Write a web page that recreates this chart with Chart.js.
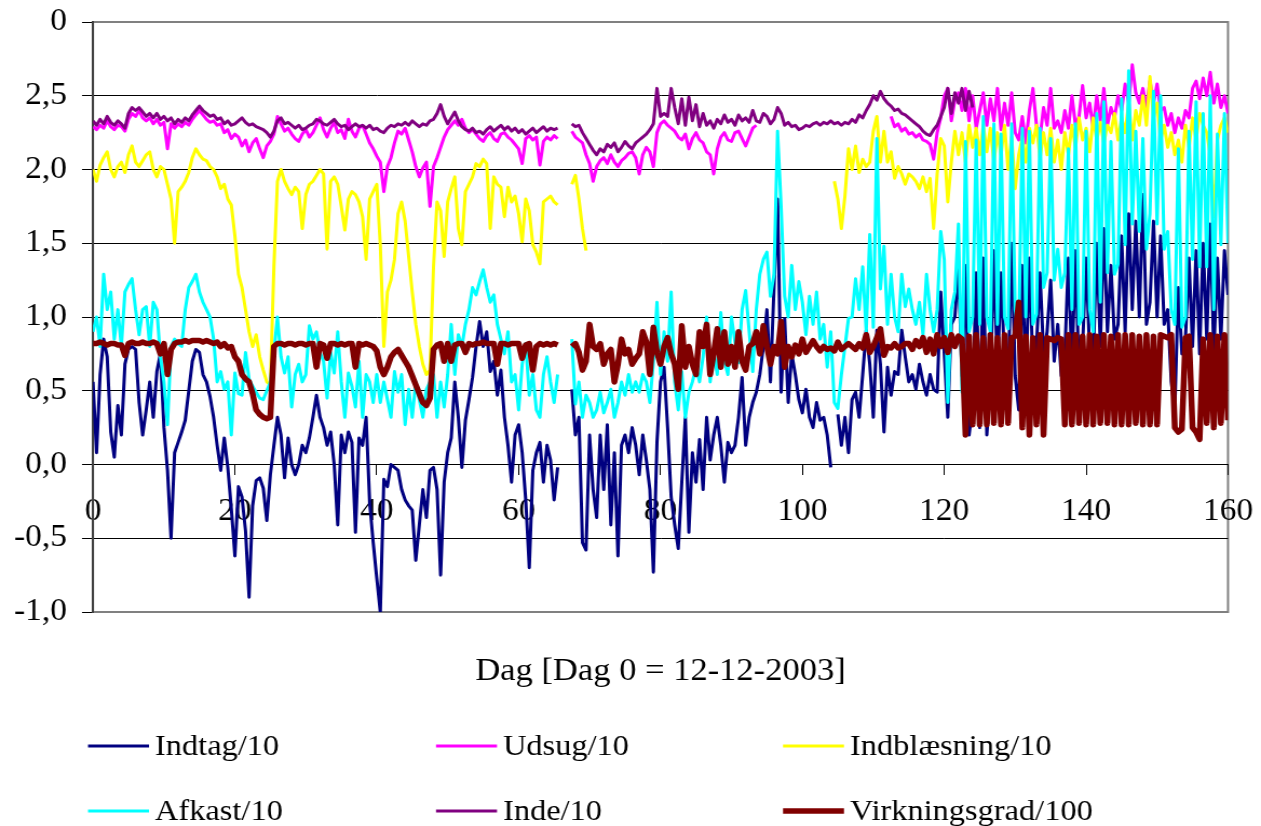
<!DOCTYPE html>
<html>
<head>
<meta charset="utf-8">
<title>Indtag, udsug, indblæsning, afkast, inde og virkningsgrad</title>
<script src="https://cdn.jsdelivr.net/npm/chart.js@4.4.0/dist/chart.umd.min.js"></script>
<style>
  html, body { margin: 0; padding: 0; background: #fff; }
</style>
</head>
<body>
<canvas id="chart" width="1168" height="826" style="width:1261px;height:826px;display:block"></canvas>
<script>

// ========== data (half-day steps, day 0 = 12-12-2003)

const days = [];
for (let i = 0; i <= 320; i++) days.push(i / 2);

const xTicks = [0, 20, 40, 60, 80, 100, 120, 140, 160];
const yTickLabels = ['-1,0', '-0,5', '0,0', '0,5', '1,0', '1,5', '2,0', '2,5', '0'];
const seriesNames = ['Indtag/10', 'Udsug/10', 'Indblæsning/10', 'Afkast/10', 'Inde/10', 'Virkningsgrad/100'];
const axisTitle = 'Dag [Dag 0 = 12-12-2003]';

const indtag = [
  0.56, 0.08, 0.61, 0.85, 0.73, 0.22, 0.05, 0.40, 0.20, 0.68,
  0.78, 0.80, 0.78, 0.42, 0.20, 0.37, 0.56, 0.32, 0.63, 0.75,
  0.25, -0.04, -0.50, 0.08, 0.15, 0.22, 0.30, 0.50, 0.70, 0.78,
  0.76, 0.61, 0.56, 0.46, 0.32, 0.13, -0.04, 0.18, -0.02, -0.30,
  -0.62, -0.15, -0.22, -0.45, -0.90, -0.28, -0.11, -0.09, -0.16, -0.38,
  -0.07, 0.13, 0.32, 0.20, -0.09, 0.18, 0.00, -0.07, 0.00, 0.13,
  0.08, 0.18, 0.32, 0.47, 0.32, 0.25, 0.13, 0.22, 0.00, -0.41,
  0.20, 0.08, 0.22, 0.15, -0.46, 0.18, 0.13, 0.32, -0.26, -0.53,
  -0.77, -1.00, -0.10, -0.15, 0.00, -0.02, -0.04, -0.17, -0.24, -0.28,
  -0.31, -0.65, -0.41, -0.17, -0.36, -0.04, -0.02, -0.17, -0.75, -0.12,
  0.08, 0.18, 0.56, 0.32, -0.02, 0.30, 0.44, 0.59, 0.80, 0.97,
  0.80, 0.90, 0.63, 0.70, 0.47, 0.64, 0.32, 0.13, -0.12, 0.20,
  0.27, 0.08, -0.24, -0.70, -0.04, 0.08, 0.15, -0.12, 0.13, 0.03,
  -0.24, -0.02, null, null, null, 0.51, 0.20, 0.32, -0.53, -0.58,
  0.20, -0.17, -0.36, 0.20, -0.17, 0.27, -0.41, 0.08, -0.62, 0.13,
  0.20, 0.08, 0.25, 0.13, -0.07, 0.20, 0.03, -0.17, -0.73, 0.15,
  0.56, 0.66, 0.25, -0.22, -0.41, -0.57, -0.12, 0.32, -0.46, 0.08,
  -0.12, 0.17, -0.17, 0.32, 0.03, 0.20, 0.32, 0.13, -0.12, 0.15,
  0.08, 0.13, 0.32, 0.59, 0.13, 0.32, 0.42, 0.49, 0.61, 0.80,
  1.05, 0.56, 1.20, 1.80, 0.49, 0.99, 0.42, 0.75, 0.61, 0.44,
  0.35, 0.51, 0.32, 0.25, 0.42, 0.30, 0.32, 0.20, -0.02, null,
  0.34, 0.13, 0.32, 0.08, 0.44, 0.49, 0.32, 0.61, 0.91, 0.68,
  0.32, 0.91, 0.68, 0.22, 0.66, 0.47, 0.63, 0.61, 0.91, 0.73,
  0.56, 0.61, 0.51, 0.68, 0.56, 0.47, 0.61, 0.51, 0.49, 1.17,
  0.75, 0.32, 0.95, 1.00, 1.34, 0.60, 1.35, 0.20, 0.40, 1.30,
  0.25, 1.40, 0.20, 0.55, 1.45, 0.60, 1.30, 0.70, 0.55, 1.50,
  0.60, 0.37, 1.35, 0.55, 1.40, 0.65, 0.80, 1.30, 0.75, 0.90,
  1.25, 0.70, 0.95, 0.60, 0.75, 1.40, 0.65, 1.45, 0.60, 0.80,
  1.40, 0.75, 0.70, 1.50, 0.80, 1.60, 0.90, 1.35, 0.85, 0.95,
  1.55, 0.90, 1.70, 1.05, 1.65, 1.00, 1.83, 0.95, 1.10, 1.65,
  1.00, 1.55, 0.95, 1.05, 0.56, 0.37, 1.20, 0.75, 0.85, 1.40,
  0.80, 1.45, 0.75, 1.50, 0.85, 1.63, 0.75, 1.40, 0.85, 1.45,
  1.15
];

const udsug = [
  2.29, 2.27, 2.30, 2.28, 2.33, 2.29, 2.27, 2.30, 2.29, 2.26,
  2.34, 2.38, 2.36, 2.40, 2.35, 2.33, 2.35, 2.31, 2.34, 2.30,
  2.32, 2.14, 2.31, 2.28, 2.31, 2.29, 2.32, 2.30, 2.34, 2.37,
  2.40, 2.37, 2.34, 2.32, 2.33, 2.30, 2.31, 2.25, 2.27, 2.21,
  2.24, 2.22, 2.16, 2.20, 2.12, 2.18, 2.21, 2.14, 2.08, 2.16,
  2.19, 2.24, 2.36, 2.31, 2.26, 2.28, 2.24, 2.21, 2.19, 2.24,
  2.27, 2.22, 2.25, 2.30, 2.35, 2.27, 2.22, 2.28, 2.32, 2.25,
  2.27, 2.21, 2.34, 2.26, 2.22, 2.28, 2.30, 2.24, 2.18, 2.14,
  2.09, 2.05, 1.85, 2.02, 2.08, 2.18, 2.26, 2.24, 2.28, 2.20,
  2.12, 2.02, 1.95, 2.01, 2.05, 1.75, 2.02, 2.08, 2.15, 2.22,
  2.27, 2.30, 2.33, 2.30, 2.34, 2.28, 2.25, 2.27, 2.24, 2.21,
  2.19, 2.23, 2.25, 2.21, 2.19, 2.24, 2.25, 2.22, 2.20, 2.17,
  2.14, 2.04, 2.21, 2.23, 2.20, 2.22, 2.03, 2.19, 2.22, 2.20,
  2.23, 2.21, null, null, null, 2.26, 2.22, 2.20, 2.18, 2.10,
  2.04, 1.92, 2.02, 2.06, 2.08, 2.04, 2.10, 2.05, 2.02, 2.06,
  2.08, 2.11, 2.12, 2.08, 1.97, 2.10, 2.15, 2.12, 2.02, 2.25,
  2.31, 2.33, 2.30, 2.28, 2.26, 2.22, 2.20, 2.24, 2.14, 2.21,
  2.25, 2.20, 2.18, 2.12, 2.10, 1.97, 2.14, 2.22, 2.25, 2.20,
  2.19, 2.25, 2.26, 2.21, 2.16, 2.22, 2.28, 2.30, null, null,
  null, null, null, null, null, null, null, null, null, null,
  null, null, null, null, null, null, null, null, null, null,
  null, null, null, null, null, null, null, null, null, null,
  null, null, null, null, null, 2.36, 2.29, 2.31, 2.26, 2.28,
  2.24, 2.25, 2.22, 2.24, 2.20, 2.19, 2.17, 2.07, 2.25, 2.35,
  2.50, 2.55, 2.33, 2.47, 2.52, 2.40, 2.55, 2.33, 2.50, 2.28,
  2.40, 2.52, 2.30, 2.48, 2.33, 2.55, 2.27, 2.45, 2.30, 2.52,
  2.25, 2.20, 2.36, 2.18, 2.40, 2.55, 2.30, 2.22, 2.42, 2.30,
  2.55, 2.28, 2.33, 2.25, 2.40, 2.28, 2.50, 2.30, 2.36, 2.57,
  2.35, 2.45, 2.28, 2.50, 2.33, 2.55, 2.30, 2.42, 2.35, 2.50,
  2.40, 2.58, 2.45, 2.71, 2.52, 2.45, 2.55, 2.42, 2.60, 2.45,
  2.58, 2.40, 2.42, 2.30, 2.38, 2.25, 2.35, 2.28, 2.40, 2.35,
  2.55, 2.60, 2.48, 2.62, 2.50, 2.66, 2.45, 2.58, 2.42, 2.50,
  2.38
];

const indblaesning = [
  2.00, 1.92, 2.03, 2.08, 2.12, 2.00, 1.95, 2.02, 2.05, 1.98,
  2.10, 2.16, 2.05, 2.02, 2.06, 2.10, 2.12, 2.00, 1.95, 2.02,
  2.00, 1.90, 1.80, 1.50, 1.85, 1.88, 1.92, 1.98, 2.08, 2.14,
  2.10, 2.07, 2.06, 2.02, 2.00, 1.95, 1.87, 1.90, 1.80, 1.76,
  1.55, 1.29, 1.20, 1.05, 0.90, 0.80, 0.88, 0.73, 0.64, 0.56,
  0.54, 1.34, 1.92, 2.00, 1.92, 1.87, 1.83, 1.88, 1.85, 1.60,
  1.83, 1.90, 1.92, 1.96, 2.00, 1.97, 1.46, 1.92, 1.95, 1.90,
  1.75, 1.59, 1.80, 1.85, 1.83, 1.78, 1.68, 1.39, 1.80, 1.85,
  1.90, 1.49, 0.80, 1.17, 1.25, 1.39, 1.70, 1.78, 1.65, 1.41,
  1.17, 0.95, 0.80, 0.68, 0.61, 0.64, 1.34, 1.78, 1.72, 1.41,
  1.78, 1.87, 1.95, 1.60, 1.49, 1.85, 1.90, 1.95, 2.04, 2.02,
  2.07, 2.04, 1.60, 1.95, 1.90, 1.88, 1.68, 1.88, 1.78, 1.82,
  1.70, 1.51, 1.80, 1.72, 1.49, 1.44, 1.36, 1.78, 1.80, 1.82,
  1.78, 1.76, null, null, null, 1.90, 1.96, 1.80, 1.60, 1.45,
  null, null, null, null, null, null, null, null, null, null,
  null, null, null, null, null, null, null, null, null, null,
  null, null, null, null, null, null, null, null, null, null,
  null, null, null, null, null, null, null, null, null, null,
  null, null, null, null, null, null, null, null, null, null,
  null, null, null, null, null, null, null, null, null, null,
  null, null, null, null, null, null, null, null, null, 1.92,
  1.80, 1.60, 1.82, 2.14, 2.00, 2.16, 1.98, 2.07, 2.02, 2.05,
  2.26, 2.36, 2.05, 2.26, 2.05, 2.12, 1.94, 2.02, 1.97, 1.90,
  1.97, 1.95, 1.92, 1.87, 1.95, 1.85, 1.94, 1.60, 1.97, 2.21,
  2.16, 1.78, 2.05, 2.26, 2.10, 2.25, 2.05, 2.30, 2.15, 2.28,
  2.10, 2.30, 2.12, 2.28, 2.05, 2.25, 2.10, 2.30, 2.00, 2.22,
  1.87, 2.10, 2.22, 2.05, 2.28, 2.18, 2.30, 2.08, 2.25, 2.10,
  2.28, 2.05, 2.20, 2.00, 2.25, 2.10, 2.30, 2.15, 2.35, 2.20,
  2.28, 2.12, 2.35, 2.20, 2.32, 2.18, 2.30, 2.25, 2.38, 2.20,
  2.35, 2.25, 2.45, 2.20, 2.40, 2.30, 2.50, 2.30, 2.63, 2.35,
  2.45, 2.20, 2.30, 2.15, 2.25, 2.10, 2.20, 2.05, 2.30, 2.15,
  2.35, 2.20, 2.38, 2.30, 2.25, 2.10, 1.68, 2.20, 2.30, 2.35,
  2.25
];

const afkast = [
  0.90, 1.00, 0.80, 1.29, 1.05, 1.17, 0.85, 1.05, 0.80, 1.17,
  1.22, 1.26, 1.05, 0.88, 1.05, 1.07, 0.80, 1.10, 1.05, 0.73,
  0.56, 0.27, 0.80, 0.85, 0.82, 0.80, 1.05, 1.20, 1.24, 1.29,
  1.17, 1.10, 1.05, 1.00, 0.85, 0.56, 0.63, 0.51, 0.56, 0.20,
  0.62, 0.48, 0.47, 0.76, 0.58, 0.53, 0.49, 0.45, 0.44, 0.50,
  0.56, 0.76, 1.00, 0.73, 0.62, 0.73, 0.39, 0.61, 0.68, 0.56,
  0.61, 0.94, 0.85, 0.90, 0.76, 0.70, 0.45, 0.76, 0.62, 0.90,
  0.56, 0.32, 0.62, 0.53, 0.39, 0.70, 0.32, 0.61, 0.56, 0.42,
  0.61, 0.42, 0.56, 0.44, 0.32, 0.63, 0.49, 0.61, 0.27, 0.51,
  0.32, 0.56, 0.44, 0.32, 0.51, 0.56, 0.61, 0.32, 0.56, 0.39,
  0.61, 0.95, 0.61, 0.88, 0.80, 0.95, 1.05, 1.20, 1.15, 1.24,
  1.32, 1.20, 1.10, 1.15, 0.95, 0.85, 0.75, 0.90, 0.56, 0.61,
  0.37, 0.68, 0.82, 0.47, 0.61, 0.37, 0.32, 0.61, 0.73, 0.56,
  0.42, 0.61, null, null, null, 0.85, 0.41, 0.56, 0.32, 0.47,
  0.42, 0.32, 0.37, 0.49, 0.35, 0.42, 0.51, 0.32, 0.42, 0.56,
  0.47, 0.61, 0.49, 0.56, 0.49, 0.61, 0.56, 0.42, 0.70, 1.10,
  0.61, 0.90, 0.70, 1.17, 0.56, 0.37, 0.63, 0.32, 0.49, 0.56,
  0.66, 0.56, 0.73, 1.00, 0.56, 0.76, 0.61, 1.03, 0.70, 0.61,
  1.00, 0.83, 0.69, 1.05, 1.18, 0.90, 0.63, 1.05, 1.29, 1.39,
  1.44, 1.14, 1.29, 2.26, 1.75, 1.14, 1.00, 1.35, 1.05, 1.24,
  1.10, 0.88, 1.14, 0.95, 1.17, 0.85, 0.95, 0.66, 0.90, 0.42,
  0.38, 0.61, 0.80, 0.99, 1.00, 1.26, 1.05, 1.34, 0.90, 1.56,
  0.93, 2.21, 1.19, 1.48, 0.95, 1.29, 1.00, 0.90, 1.29, 1.07,
  1.19, 1.05, 0.95, 1.10, 0.88, 1.29, 1.05, 0.90, 1.05, 1.58,
  1.39, 0.42, 1.05, 1.17, 1.63, 0.49, 2.19, 0.90, 1.00, 2.20,
  0.95, 2.36, 1.00, 0.90, 2.31, 0.95, 2.24, 1.00, 0.92, 2.31,
  1.05, 0.88, 2.28, 1.00, 2.26, 0.95, 1.02, 2.28, 1.20, 1.30,
  2.21, 1.25, 1.46, 1.20, 1.30, 2.14, 1.05, 2.31, 0.95, 1.00,
  2.26, 1.05, 0.90, 2.38, 1.10, 2.46, 1.30, 2.19, 1.29, 1.36,
  2.48, 1.49, 2.67, 1.63, 2.26, 1.58, 2.21, 1.46, 1.70, 2.53,
  1.63, 2.50, 1.46, 1.58, 1.05, 0.95, 2.14, 0.93, 1.00, 2.26,
  1.39, 2.46, 1.34, 2.38, 1.34, 2.50, 1.05, 2.24, 1.49, 2.38,
  1.50
];

const inde = [
  2.33, 2.30, 2.34, 2.31, 2.36, 2.32, 2.30, 2.33, 2.31, 2.28,
  2.38, 2.42, 2.40, 2.42, 2.39, 2.36, 2.38, 2.35, 2.38, 2.34,
  2.36, 2.33, 2.35, 2.31, 2.34, 2.32, 2.35, 2.33, 2.37, 2.40,
  2.43, 2.40, 2.38, 2.36, 2.37, 2.34, 2.35, 2.31, 2.33, 2.30,
  2.31, 2.33, 2.35, 2.32, 2.30, 2.31, 2.29, 2.28, 2.27, 2.25,
  2.22, 2.26, 2.33, 2.35, 2.31, 2.32, 2.30, 2.28, 2.30, 2.27,
  2.28, 2.30, 2.31, 2.34, 2.33, 2.31, 2.30, 2.32, 2.34, 2.31,
  2.29, 2.30, 2.27, 2.29, 2.31, 2.29, 2.30, 2.28, 2.30, 2.27,
  2.28, 2.26, 2.25, 2.28, 2.30, 2.29, 2.31, 2.30, 2.32, 2.30,
  2.33, 2.31, 2.29, 2.31, 2.30, 2.33, 2.34, 2.38, 2.44, 2.36,
  2.31, 2.35, 2.39, 2.33, 2.29, 2.27, 2.26, 2.28, 2.25, 2.26,
  2.24, 2.27, 2.29, 2.26, 2.28, 2.30, 2.27, 2.29, 2.26, 2.28,
  2.25, 2.27, 2.24, 2.26, 2.28, 2.25, 2.27, 2.29, 2.26, 2.28,
  2.27, 2.28, null, null, null, 2.31, 2.29, 2.30, 2.25, 2.21,
  2.17, 2.13, 2.10, 2.14, 2.12, 2.17, 2.15, 2.18, 2.12, 2.15,
  2.19, 2.16, 2.14, 2.18, 2.20, 2.22, 2.24, 2.27, 2.31, 2.55,
  2.36, 2.38, 2.36, 2.55, 2.42, 2.31, 2.48, 2.30, 2.49, 2.33,
  2.44, 2.29, 2.38, 2.30, 2.33, 2.28, 2.34, 2.31, 2.37, 2.32,
  2.34, 2.30, 2.37, 2.33, 2.35, 2.32, 2.40, 2.33, 2.32, 2.38,
  2.36, 2.31, 2.34, 2.42, 2.38, 2.30, 2.32, 2.29, 2.30, 2.27,
  2.28, 2.30, 2.29, 2.31, 2.32, 2.30, 2.32, 2.31, 2.33, 2.31,
  2.32, 2.30, 2.32, 2.31, 2.34, 2.32, 2.37, 2.35, 2.40, 2.44,
  2.50, 2.47, 2.53, 2.48, 2.45, 2.43, 2.40, 2.41, 2.38, 2.37,
  2.35, 2.33, 2.31, 2.29, 2.26, 2.24, 2.23, 2.27, 2.30, 2.36,
  2.42, 2.55, 2.38, 2.52, 2.45, 2.55, 2.40, 2.53, 2.42, null
];

const virkningsgrad = [
  0.82, 0.82, 0.83, 0.82, 0.81, 0.82, 0.82, 0.81, 0.81, 0.74,
  0.82, 0.83, 0.82, 0.82, 0.83, 0.82, 0.82, 0.83, 0.82, 0.75,
  0.82, 0.61, 0.78, 0.82, 0.83, 0.83, 0.84, 0.83, 0.84, 0.84,
  0.84, 0.83, 0.84, 0.83, 0.82, 0.83, 0.80, 0.82, 0.79, 0.80,
  0.73, 0.70, 0.61, 0.58, 0.56, 0.48, 0.37, 0.34, 0.32, 0.31,
  0.32, 0.80, 0.82, 0.82, 0.81, 0.82, 0.82, 0.81, 0.82, 0.82,
  0.81, 0.82, 0.82, 0.66, 0.82, 0.81, 0.72, 0.82, 0.82, 0.81,
  0.82, 0.81, 0.82, 0.82, 0.66, 0.82, 0.81, 0.82, 0.81, 0.80,
  0.77, 0.66, 0.61, 0.66, 0.73, 0.76, 0.78, 0.74, 0.70, 0.66,
  0.60, 0.54, 0.48, 0.42, 0.40, 0.45, 0.78, 0.81, 0.82, 0.70,
  0.82, 0.70, 0.81, 0.82, 0.82, 0.76, 0.82, 0.81, 0.82, 0.82,
  0.83, 0.82, 0.82, 0.82, 0.68, 0.82, 0.82, 0.81, 0.82, 0.82,
  0.82, 0.72, 0.81, 0.82, 0.64, 0.80, 0.82, 0.81, 0.82, 0.81,
  0.82, 0.81, null, null, null, 0.80, 0.82, 0.76, 0.64, 0.70,
  0.95, 0.80, 0.78, 0.82, 0.68, 0.75, 0.78, 0.56, 0.68, 0.85,
  0.75, 0.78, 0.68, 0.72, 0.75, 0.90, 0.83, 0.61, 0.93, 0.76,
  0.68, 0.80, 0.86, 0.75, 0.68, 0.51, 0.94, 0.66, 0.80, 0.68,
  0.61, 0.90, 0.80, 0.95, 0.61, 0.75, 0.92, 0.66, 0.90, 0.68,
  0.80, 0.66, 0.90, 0.70, 0.64, 0.80, 0.82, 0.90, 0.75, 0.94,
  0.80, 0.68, 0.80, 0.75, 0.97, 0.66, 0.80, 0.73, 0.81, 0.75,
  0.85, 0.76, 0.80, 0.84, 0.80, 0.77, 0.80, 0.78, 0.79, 0.77,
  0.83, 0.78, 0.80, 0.82, 0.80, 0.78, 0.82, 0.79, 0.88, 0.76,
  0.80, 0.86, 0.92, 0.74, 0.80, 0.79, 0.82, 0.79, 0.80, 0.82,
  0.82, 0.78, 0.84, 0.80, 0.86, 0.76, 0.85, 0.75, 0.88, 0.80,
  0.86, 0.76, 0.88, 0.80, 0.87, 0.85, 0.20, 0.87, 0.27, 0.88,
  0.27, 0.86, 0.27, 0.88, 0.28, 0.86, 0.27, 0.88, 0.28, 0.86,
  0.87, 1.10, 0.25, 0.87, 0.20, 0.86, 0.27, 0.88, 0.20, 0.86,
  0.85, 0.84, 0.86, 0.85, 0.27, 0.88, 0.27, 0.88, 0.28, 0.87,
  0.27, 0.88, 0.27, 0.87, 0.28, 0.88, 0.28, 0.87, 0.27, 0.88,
  0.27, 0.88, 0.27, 0.88, 0.28, 0.87, 0.27, 0.88, 0.27, 0.87,
  0.27, 0.88, 0.87, 0.86, 0.88, 0.25, 0.22, 0.24, 0.86, 0.87,
  0.25, 0.22, 0.17, 0.85, 0.28, 0.88, 0.25, 0.87, 0.28, 0.88,
  0.30
];

const seriesValues = [indtag, udsug, indblaesning, afkast, inde, virkningsgrad];


// ========== layout (the picture is stretched sideways, so the canvas is narrower than the page)

const W = 1168;
const SX = 1261 / W;
const px = v => v / SX;   // page px -> canvas px

const serif = '"Liberation Serif", "Times New Roman", serif';
const tickFont = { family: serif, size: 31 };

const seriesColors = ['#000080', '#FF00FF', '#FFFF00', '#00FFFF', '#800080', '#800000'];
const seriesWidths = [3, 3, 3, 3, 3, 5.5];

const legendCols = [px(88), px(436), px(783)];
const legendLineY = [746, 811];
const legendTextY = [755, 820];


// ========== plugin: plot frame, axis title and legend

const decorations = {
	id: 'decorations',
	beforeDraw(chart) {
		const ctx = chart.ctx;
		const a = chart.chartArea;
		ctx.save();
		ctx.strokeStyle = '#808080';
		ctx.lineWidth = 2;
		ctx.strokeRect(a.left, a.top, a.right - a.left, a.bottom - a.top);
		ctx.restore();
	},
	afterDraw(chart) {
		const ctx = chart.ctx;
		const a = chart.chartArea;
		ctx.save();
		ctx.fillStyle = '#000';
		ctx.textBaseline = 'alphabetic';
		ctx.textAlign = 'center';
		ctx.font = '32px ' + serif;
		ctx.fillText(axisTitle, (a.left + a.right) / 2, 680);

		ctx.textAlign = 'left';
		ctx.font = '30px ' + serif;
		chart.data.datasets.forEach((ds, k) => {
			const x = legendCols[k % 3];
			const row = Math.floor(k / 3);
			ctx.strokeStyle = ds.borderColor;
			ctx.lineWidth = ds.borderWidth;
			ctx.beginPath();
			ctx.moveTo(x, legendLineY[row]);
			ctx.lineTo(x + px(61), legendLineY[row]);
			ctx.stroke();
			ctx.fillText(ds.label, x + px(67), legendTextY[row]);
		});
		ctx.restore();
	}
};


// ========== chart

const datasets = seriesNames.map((name, k) => ({
	label: name,
	data: seriesValues[k].map((v, i) => ({ x: days[i], y: v })),
	borderColor: seriesColors[k],
	borderWidth: seriesWidths[k],
	borderJoinStyle: 'round',
	pointRadius: 0,
	tension: 0,
	fill: false,
	spanGaps: false,
	order: 5 - k   // first series drawn first, Virkningsgrad on top
}));

new Chart(document.getElementById('chart'), {
	type: 'line',
	data: { datasets: datasets },
	plugins: [decorations],
	options: {
		responsive: false,
		devicePixelRatio: 1,
		animation: false,
		events: [],
		layout: { padding: { left: 0, right: W - px(1228), top: 22, bottom: 826 - 612 } },
		plugins: {
			legend: { display: false },
			tooltip: { enabled: false }
		},
		scales: {
			x: {
				type: 'linear',
				min: 0,
				max: 160,
				position: { y: 0 },
				afterBuildTicks: s => { s.ticks = xTicks.map(v => ({ value: v })); },
				afterFit: s => { s.paddingLeft = 0; s.paddingRight = 0; },
				ticks: { color: '#000', font: tickFont, padding: 19, maxRotation: 0, autoSkip: false },
				grid: { drawOnChartArea: false, tickLength: 10, tickColor: '#000', tickWidth: 1 },
				border: { color: '#000', width: 1 }
			},
			y: {
				min: -1,
				max: 3,
				afterFit: s => { s.width = px(93); s.paddingTop = 0; s.paddingBottom = 0; },
				ticks: {
					stepSize: 0.5,
					color: '#000',
					font: tickFont,
					padding: px(15),
					callback: (v, i) => yTickLabels[i]
				},
				grid: {
					color: c => (c.tick.value === 3 || c.tick.value === -1) ? '#808080' : '#000',
					lineWidth: 1,
					tickLength: px(11),
					tickColor: '#000'
				},
				border: { color: '#404040', width: 2 }
			}
		}
	}
});
</script>
</body>
</html>
